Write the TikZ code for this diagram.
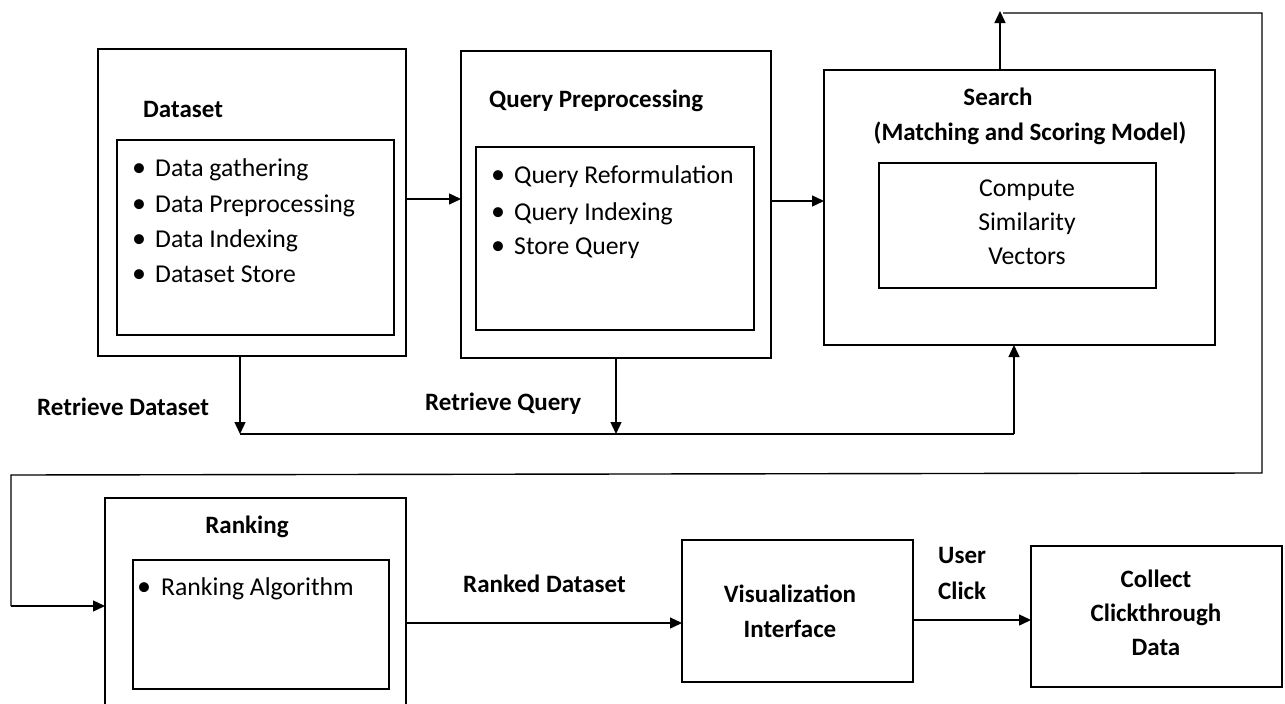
\documentclass[tikz,border=0pt]{standalone}
\usepackage{fontspec}
\setmainfont{Carlito}
\usetikzlibrary{arrows.meta}
\begin{document}
\begin{tikzpicture}[x=1pt,y=-1pt,
  box/.style={draw,line width=1.4pt,inner sep=0pt,outer sep=0pt},
  arr/.style={line width=1.4pt,-{Triangle[length=12pt,width=11pt]}},
  ln/.style={line width=1.4pt},
  txt/.style={inner sep=0pt,font=\fontsize{25.7}{30}\selectfont},
  btxt/.style={inner sep=0pt,font=\fontsize{25}{30}\selectfont\bfseries},
  bul/.style={inner sep=0pt,font=\fontsize{28}{30}\selectfont}]
\useasboundingbox (0,0) rectangle (1285,704);
\clip (0,0) rectangle (1285,704);
\fill[white] (0,0) rectangle (1285,704);
% boxes
\node[box,minimum width=308pt,minimum height=307pt] (dsO) at (252,202.5) {};
\node[box,minimum width=277pt,minimum height=195pt] (dsI) at (255.5,237.5) {};
\node[box,minimum width=310pt,minimum height=307pt] (qpO) at (616,204.5) {};
\node[box,minimum width=278pt,minimum height=183pt] (qpI) at (615,238.5) {};
\node[box,minimum width=391pt,minimum height=275pt] (srO) at (1019.5,207.5) {};
\node[box,minimum width=277pt,minimum height=125pt] (srI) at (1017.5,225.5) {};
\node[box,minimum width=301pt,minimum height=216pt] (rkO) at (255.5,606) {};
\node[box,minimum width=256pt,minimum height=129pt] (rkI) at (261,624.5) {};
\node[box,minimum width=231pt,minimum height=142pt] (vis) at (797.5,611) {};
\node[box,minimum width=251pt,minimum height=141pt] (col) at (1156.5,616.5) {};
% titles
\node[btxt,anchor=base west] (dsT) at (143,117) {Dataset};
\node[btxt,anchor=base west] (qpT) at (489,107) {Query Preprocessing};
\node[btxt,anchor=base] (srT1) at (998,105) {Search};
\node[btxt,anchor=base] (srT2) at (1030,140) {(Matching and Scoring Model)};
\node[btxt,anchor=base] (rkT) at (247,533) {Ranking};
\node[btxt,anchor=base] (visT1) at (790,602) {Visualization};
\node[btxt,anchor=base] (visT2) at (790,637) {Interface};
\node[btxt,anchor=base] (colT1) at (1156,587) {Collect};
\node[btxt,anchor=base] (colT2) at (1156,621) {Clickthrough};
\node[btxt,anchor=base] (colT3) at (1156,655) {Data};
% dataset list
\node[bul,anchor=base] (b1) at (139,176) {•};
\node[txt,anchor=base west] (d1) at (155,176) {Data gathering};
\node[bul,anchor=base] (b2) at (139,212) {•};
\node[txt,anchor=base west] (d2) at (155,212) {Data Preprocessing};
\node[bul,anchor=base] (b3) at (139,247) {•};
\node[txt,anchor=base west] (d3) at (155,247) {Data Indexing};
\node[bul,anchor=base] (b4) at (139,282) {•};
\node[txt,anchor=base west] (d4) at (155,282) {Dataset Store};
% query list
\node[bul,anchor=base] (qb1) at (498,183) {•};
\node[txt,anchor=base west] (q1) at (514,183) {Query Reformulation};
\node[bul,anchor=base] (qb2) at (498,220) {•};
\node[txt,anchor=base west] (q2) at (514,220) {Query Indexing};
\node[bul,anchor=base] (qb3) at (498,254) {•};
\node[txt,anchor=base west] (q3) at (514,254) {Store Query};
% search inner
\node[txt,anchor=base] (c1) at (1027,196) {Compute};
\node[txt,anchor=base] (c2) at (1027,230) {Similarity};
\node[txt,anchor=base] (c3) at (1027,264) {Vectors};
% ranking list
\node[bul,anchor=base] (rb1) at (144,595) {•};
\node[txt,anchor=base west] (r1) at (161,595) {Ranking Algorithm};
% labels
\node[btxt,anchor=base west] (lRD) at (37,415) {Retrieve Dataset};
\node[btxt,anchor=base west] (lRQ) at (425,410) {Retrieve Query};
\node[btxt,anchor=base west] (lRk) at (463,592) {Ranked Dataset};
\node[btxt,anchor=base west] (lU1) at (938,563) {User};
\node[btxt,anchor=base west] (lU2) at (938,599) {Click};
% connectors
\coordinate (jl) at (240,434);
\coordinate (jr) at (1014,434);
\coordinate (jq) at (qpO.south |- jl);
\coordinate (up) at (1000,11);
\coordinate (t1) at (1003,13);
\coordinate (t2) at (1262,13);
\coordinate (t3) at (1262,473);
\coordinate (t4) at (11,475);
\coordinate (t5) at (11,606);
\draw[arr] (dsO.east |- 0,199) -- (qpO.west |- 0,199);
\draw[arr] (qpO.east |- 0,201) -- (srO.west |- 0,201);
\draw[arr] (dsO.south -| jl) -- (jl);
\draw[arr] (qpO.south) -- (jq);
\draw[ln] (jl) -- (jr);
\draw[arr] (jr) -- (srO.south -| jr);
\draw[arr] (srO.north -| up) -- (up);
\draw[ln] (t1) -- (t2) -- (t3) -- (t4) -- (t5);
\draw[arr] (t5) -- (rkO.west |- t5);
\draw[arr] (rkO.east |- 0,623) -- (vis.west |- 0,623);
\draw[arr] (vis.east |- 0,620) -- (col.west |- 0,620);
\end{tikzpicture}
\end{document}
